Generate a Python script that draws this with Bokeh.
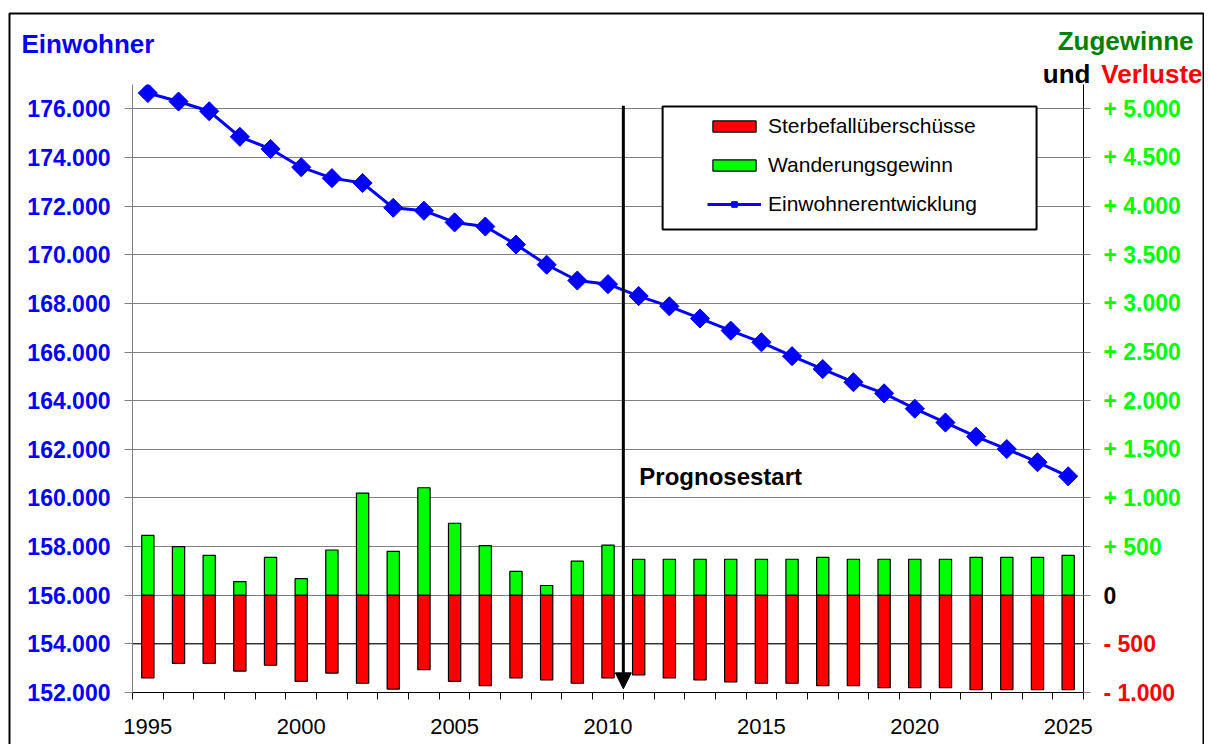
import numpy as np
from bokeh.plotting import figure
from bokeh.models import (Range1d, LinearAxis, FixedTicker, Legend, LegendItem,
                          BoxAnnotation, Arrow, NormalHead, Label, LabelSet,
                          ColumnDataSource, Span)
from bokeh.core.properties import value
from bokeh.embed import file_html
from bokeh.resources import INLINE

# ---------------- data ----------------
years = list(range(1995, 2026))
einwohner = [176650, 176300, 175900, 174850, 174350,
             173600, 173150, 172950, 171930, 171810,
             171330, 171160, 170420, 169590, 168940,
             168790, 168300, 167880, 167380, 166880,
             166400, 165830, 165300, 164760, 164300,
             163670, 163100, 162520, 162010, 161470,
             160890]
wanderungsgewinn = [615, 500, 410, 140, 390,
                    170, 465, 1050, 450, 1105,
                    740, 510, 245, 100, 350,
                    515, 370, 370, 370, 370,
                    370, 370, 390, 370, 370,
                    370, 370, 390, 390, 390,
                    410]
sterbefallueberschuss = [-850, -700, -700, -780, -720,
                         -885, -800, -905, -965, -765,
                         -885, -930, -850, -870, -905,
                         -850, -820, -850, -870, -890,
                         -905, -905, -930, -930, -950,
                         -950, -950, -970, -970, -970,
                         -970]
x_label_years = [1995, 2000, 2005, 2010, 2015, 2020, 2025]
left_ticks = list(range(152000, 176001, 2000))
right_ticks = list(range(-1000, 5001, 500))
prognose_start = 2010.5
series_names = ["Sterbefallüberschüsse", "Wanderungsgewinn", "Einwohnerentwicklung"]

FONT = "Liberation Sans"

# ---------------- layout constants (pixels) ----------------
W, H = 1204, 744
L, R, T, B = 132, 1083, 84, 692          # plot frame
X0, X1 = 1994.5, 2025.5
YL0, YL1 = 152000, 177000
YR0, YR1 = -1000, 5250


def de(n):
    return f"{abs(int(n)):,}".replace(",", ".")


def right_label(v):
    if v > 0:
        return "+ " + de(v)
    if v < 0:
        return "- " + de(v)
    return "0"


# ---------------- main figure ----------------
p = figure(width=W, height=H,
           x_range=Range1d(X0, X1), y_range=Range1d(YL0, YL1),
           output_backend="svg", toolbar_location=None,
           min_border_left=L, min_border_right=W - R,
           min_border_top=T, min_border_bottom=H - B)
p.extra_y_ranges = {"right": Range1d(YR0, YR1)}
p.background_fill_color = "white"
p.border_fill_color = "white"
p.outline_line_color = None

# grid
p.xgrid.grid_line_color = None
p.ygrid.grid_line_color = "#808080"
p.ygrid.grid_line_width = 1
p.ygrid.ticker = FixedTicker(ticks=left_ticks)
p.add_layout(Span(location=154000, dimension="width", line_color="black",
                  line_width=1, level="underlay"))

# left axis
la = p.yaxis[0]
la.ticker = FixedTicker(ticks=left_ticks)
la.major_label_overrides = {v: de(v) for v in left_ticks}
la.major_label_text_color = "#0000FF"
la.major_label_text_font = FONT
la.major_label_text_font_style = "bold"
la.major_label_text_font_size = "23px"
la.axis_line_color = "#808080"
la.major_tick_line_color = "#808080"
la.major_tick_out = 8
la.major_tick_in = 0
la.minor_tick_line_color = None
la.major_label_standoff = 14

# right axis
ra = LinearAxis(y_range_name="right")
ra.ticker = FixedTicker(ticks=right_ticks)
ra.major_label_overrides = {v: (right_label(v) if v > 0 else "") for v in right_ticks}
ra.major_label_text_color = "#00FF00"
ra.major_label_text_font = FONT
ra.major_label_text_font_style = "bold"
ra.major_label_text_font_size = "23px"
ra.axis_line_color = "black"
ra.major_tick_line_color = "#808080"
ra.major_tick_out = 7
ra.major_tick_in = 0
ra.minor_tick_line_color = None
ra.major_label_standoff = 13
p.add_layout(ra, "right")

# x axis
xa = p.xaxis[0]
xa.ticker = FixedTicker(ticks=x_label_years,
                        minor_ticks=[y - 0.5 for y in years] + [years[-1] + 0.5])
xa.major_tick_line_color = None
xa.major_tick_out = 7
xa.minor_tick_line_color = "black"
xa.minor_tick_out = 7
xa.minor_tick_in = 0
xa.axis_line_color = "black"
xa.major_label_text_font = FONT
xa.major_label_text_font_size = "22px"
xa.major_label_text_color = "black"
xa.major_label_standoff = 19

# ---------------- glyphs ----------------
r_red = p.vbar(x=years, top=[0] * len(years), bottom=sterbefallueberschuss,
               width=0.4, fill_color="#FF0000", line_color="black",
               line_width=1.2, y_range_name="right")
r_green = p.vbar(x=years, top=wanderungsgewinn, bottom=[0] * len(years),
                 width=0.4, fill_color="#00FF00", line_color="black",
                 line_width=1.2, y_range_name="right")
r_line = p.line(years, einwohner, line_color="#0000FF", line_width=3)
r_pts = p.scatter(years, einwohner, marker="square", angle=np.pi / 4,
                  size=13.5, fill_color="#0000FF", line_color="#0000FF")

# legend box + legend
p.add_layout(BoxAnnotation(left=2011.78, right=2023.97, top=176095, bottom=171038,
                           fill_color="white", fill_alpha=1,
                           line_color="black", line_alpha=1, line_width=2,
                           level="annotation"))
legend = Legend(items=[LegendItem(label=series_names[0], renderers=[r_red]),
                       LegendItem(label=series_names[1], renderers=[r_green]),
                       LegendItem(label=series_names[2], renderers=[r_line, r_pts])],
                location=(575, 476), orientation="vertical",
                border_line_color=None, background_fill_alpha=0,
                padding=0, margin=0, spacing=15,
                glyph_width=54, glyph_height=14, label_standoff=7,
                label_text_font=FONT, label_text_font_size="21px",
                label_text_color="black")
p.add_layout(legend)

# Prognose arrow
p.add_layout(Arrow(end=NormalHead(size=16, fill_color="black", line_color="black"),
                   x_start=prognose_start, y_start=176130,
                   x_end=prognose_start, y_end=152150,
                   line_color="black", line_width=3))
p.add_layout(Label(x=prognose_start, y=160900, x_offset=16, text="Prognosestart",
                   text_font=FONT, text_font_style="bold", text_font_size="24px",
                   text_color="black", text_baseline="middle", text_align="left"))

# ---------------- overlay figure for texts outside the plot frame ----------------
ppx = (R - L) / (X1 - X0)
ppy = (B - T) / (YL1 - YL0)
ppr = (B - T) / (YR1 - YR0)
q = figure(width=W, height=H,
           x_range=Range1d(X0 - L / ppx, X1 + (W - R) / ppx),
           y_range=Range1d(YL0 - (H - B) / ppy, YL1 + T / ppy),
           output_backend="svg", toolbar_location=None,
           x_axis_type=None, y_axis_type=None,
           min_border=0, min_border_left=0, min_border_right=0,
           min_border_top=0, min_border_bottom=0)
q.extra_y_ranges = {"right": Range1d(YR0 - (H - B) / ppr, YR1 + T / ppr)}
q.grid.visible = False
q.background_fill_alpha = 0
q.border_fill_alpha = 0
q.outline_line_color = None
q.styles = {"position": "absolute", "left": "0px", "top": "0px"}

other = [v for v in right_ticks if v <= 0]
lab_src = ColumnDataSource(dict(
    y=other,
    text=[right_label(v) for v in other],
    color=["black" if v == 0 else "#FF0000" for v in other]))
q.add_layout(LabelSet(x=X1, y="y", text="text", source=lab_src,
                      y_range_name="right", x_offset=20,
                      text_color="color", text_font=value(FONT),
                      text_font_style="bold", text_font_size="23px",
                      text_align="left", text_baseline="middle"))

q.add_layout(Label(x=X0, y=YL1, x_offset=-111, y_offset=41, text="Einwohner",
                   text_font=FONT, text_font_style="bold", text_font_size="26px",
                   text_color="#0000FF", text_baseline="middle", text_align="left"))
q.add_layout(Label(x=X1, y=YL1, x_offset=110, y_offset=44, text="Zugewinne",
                   text_font=FONT, text_font_style="bold", text_font_size="26px",
                   text_color="#008000", text_baseline="middle", text_align="right"))
q.add_layout(Label(x=X1, y=YL1, x_offset=119, y_offset=11, text="Verluste",
                   text_font=FONT, text_font_style="bold", text_font_size="26px",
                   text_color="#FF0000", text_baseline="middle", text_align="right"))
q.add_layout(Label(x=X1, y=YL1, x_offset=7, y_offset=11, text="und",
                   text_font=FONT, text_font_style="bold", text_font_size="26px",
                   text_color="black", text_baseline="middle", text_align="right"))

# outer chart frame
q.add_layout(BoxAnnotation(left=9, right=W - 1, top=13, bottom=H + 50,
                           left_units="canvas", right_units="canvas",
                           top_units="canvas", bottom_units="canvas",
                           fill_alpha=0, line_color="black", line_alpha=1,
                           line_width=2, level="overlay"))

open("out.html", "w").write(file_html([p, q], INLINE))
